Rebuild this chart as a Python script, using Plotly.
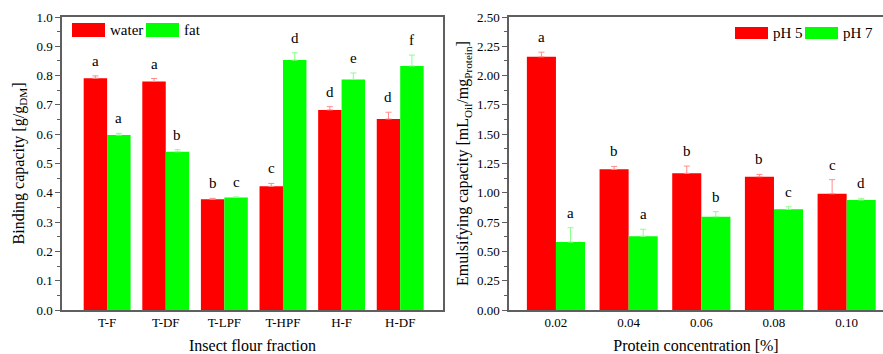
import plotly.graph_objects as go

# ---------------- data ----------------
fractions = ["T-F", "T-DF", "T-LPF", "T-HPF", "H-F", "H-DF"]
water = [0.791, 0.780, 0.378, 0.422, 0.683, 0.652]
water_err = [0.008, 0.010, 0.003, 0.010, 0.011, 0.023]
fat = [0.597, 0.540, 0.384, 0.853, 0.787, 0.833]
fat_err = [0.006, 0.007, 0.002, 0.025, 0.022, 0.037]
water_letters = ["a", "a", "b", "c", "d", "d"]
fat_letters = ["a", "b", "c", "d", "e", "f"]

concentrations = ["0.02", "0.04", "0.06", "0.08", "0.10"]
ph5 = [2.16, 1.20, 1.166, 1.137, 0.992]
ph5_err = [0.04, 0.025, 0.062, 0.02, 0.12]
ph7 = [0.580, 0.629, 0.796, 0.859, 0.939]
ph7_err = [0.122, 0.06, 0.043, 0.022, 0.014]
ph5_letters = ["a", "b", "b", "b", "c"]
ph7_letters = ["a", "a", "b", "c", "d"]

# ---------------- layout geometry ----------------
W, H = 883, 354
L_X0, L_X1 = 62, 443
R_X0, R_X1 = 509, 883
Y0, Y1 = 310, 17
RED = "#FF0000"
GREEN = "#00FF00"
RED_ERR = "#FF8C8C"
GREEN_ERR = "#8CFF8C"
AXC = "#5f5f5f"
FONT = "Liberation Serif, Times New Roman, serif"

left_range = [-0.77, 5.73]
right_range = [-0.646, 4.5]

fig = go.Figure()

def add_bar(x, y, err, color, ecolor, xa, ya, name):
    fig.add_trace(go.Bar(
        x=x, y=y, name=name, xaxis=xa, yaxis=ya, showlegend=False,
        marker=dict(color=color, line=dict(width=0)),
        error_y=dict(type="data", array=err, arrayminus=[0] * len(err),
                     symmetric=False, color=ecolor, thickness=1, width=3),
    ))

add_bar(fractions, water, water_err, RED, RED_ERR, "x", "y", "water")
add_bar(fractions, fat, fat_err, GREEN, GREEN_ERR, "x", "y", "fat")
add_bar(concentrations, ph5, ph5_err, RED, RED_ERR, "x2", "y2", "pH 5")
add_bar(concentrations, ph7, ph7_err, GREEN, GREEN_ERR, "x2", "y2", "pH 7")

annotations = []

def letters(cats, vals, errs, labs, side, xa, ya, px_per_cat):
    shift = side * 0.2 * px_per_cat
    for i, (v, e, t) in enumerate(zip(vals, errs, labs)):
        annotations.append(dict(
            x=i, y=v + e, xref=xa, yref=ya, text=t, showarrow=False,
            xanchor="center", yanchor="bottom", xshift=shift, yshift=5,
            font=dict(family=FONT, size=15, color="black")))

lpx = (L_X1 - L_X0) / (left_range[1] - left_range[0])
rpx = (R_X1 - R_X0) / (right_range[1] - right_range[0])
letters(fractions, water, water_err, water_letters, -1, "x", "y", lpx)
letters(fractions, fat, fat_err, fat_letters, 1, "x", "y", lpx)
letters(concentrations, ph5, ph5_err, ph5_letters, -1, "x2", "y2", rpx)
letters(concentrations, ph7, ph7_err, ph7_letters, 1, "x2", "y2", rpx)

# legends drawn as swatches + text
shapes = []

def legend_item(xa, ya, x0, x1, ytop, ybot, color, label):
    dx0 = (x0 - xa[1]) / (xa[2] - xa[1])
    dx1 = (x1 - xa[1]) / (xa[2] - xa[1])
    dy0 = (Y0 - ybot) / (Y0 - Y1)
    dy1 = (Y0 - ytop) / (Y0 - Y1)
    shapes.append(dict(type="rect", xref=xa[0] + " domain", yref=ya + " domain",
                       x0=dx0, x1=dx1, y0=dy0, y1=dy1,
                       fillcolor=color, line=dict(width=0)))
    annotations.append(dict(x=dx1 + 3 / (xa[2] - xa[1]), y=(dy0 + dy1) / 2,
                            xref=xa[0] + " domain", yref=ya + " domain",
                            text=label, showarrow=False, xanchor="left",
                            yanchor="middle",
                            font=dict(family=FONT, size=15, color="black")))

legend_item(("x", L_X0, L_X1), "y", 72, 105, 23, 37, RED, "water")
legend_item(("x", L_X0, L_X1), "y", 146, 179, 23, 37, GREEN, "fat")
legend_item(("x2", R_X0, R_X1), "y2", 735, 768, 27, 39, RED, "pH 5")
legend_item(("x2", R_X0, R_X1), "y2", 805, 838, 27, 39, GREEN, "pH 7")

ydom = [1 - Y0 / H, 1 - Y1 / H]
tickfont = dict(family=FONT, size=13, color="black")
titlefont = dict(family=FONT, size=16, color="black")

common_x = dict(type="category", showline=True, linecolor=AXC, linewidth=1.5,
                ticks="", showgrid=False, zeroline=False, tickfont=tickfont,
                mirror=True, automargin=False)
common_y = dict(showline=True, linecolor=AXC, linewidth=1.5, ticks="outside",
                ticklen=5, tickcolor=AXC, showgrid=False, zeroline=False,
                tickfont=tickfont, automargin=False)

fig.update_layout(
    width=W, height=H,
    margin=dict(l=0, r=0, t=0, b=0, autoexpand=False),
    paper_bgcolor="white", plot_bgcolor="white",
    barmode="group", bargap=0.2, bargroupgap=0,
    font=dict(family=FONT, color="black"),
    xaxis=dict(**common_x, domain=[L_X0 / W, L_X1 / W], range=left_range,
               anchor="y",
               title=dict(text="Insect flour fraction", font=titlefont, standoff=10)),
    yaxis=dict(**common_y, domain=ydom, range=[0, 1.0], dtick=0.1,
               tickformat=".1f", anchor="x", mirror=True,
               minor=dict(ticks="outside", ticklen=3, tickcolor=AXC, dtick=0.05),
               title=dict(text="Binding capacity [g/g<sub>DM</sub>]",
                          font=titlefont, standoff=8)),
    xaxis2=dict(**common_x, domain=[R_X0 / W, R_X1 / W], range=right_range,
                anchor="y2",
                title=dict(text="Protein concentration [%]", font=titlefont, standoff=10)),
    yaxis2=dict(**common_y, domain=ydom, range=[0, 2.5], dtick=0.25,
                tickformat=".2f", anchor="x2",
                minor=dict(ticks="outside", ticklen=3, tickcolor=AXC, dtick=0.125),
                title=dict(text="Emulsifying capacity [mL<sub>Oil</sub>/mg<sub>Protein</sub>]",
                           font=titlefont, standoff=4)),
    annotations=annotations,
    shapes=shapes,
)

fig.write_html("out.html",
               config={"displayModeBar": False},
               post_script="document.body.style.margin='0px';document.body.style.padding='0px';")
